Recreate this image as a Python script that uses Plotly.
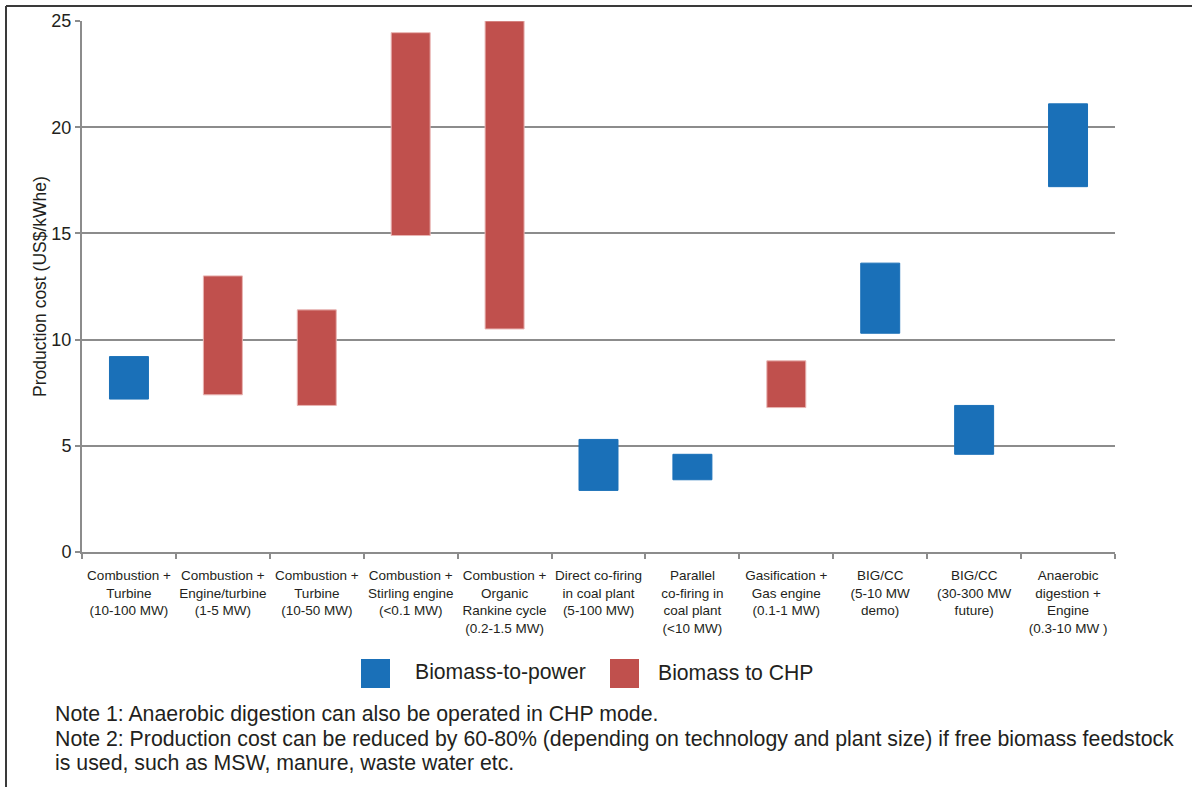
import plotly.graph_objects as go

categories = [
    "Combustion +<br>Turbine<br>(10-100 MW)",
    "Combustion +<br>Engine/turbine<br>(1-5 MW)",
    "Combustion +<br>Turbine<br>(10-50 MW)",
    "Combustion +<br>Stirling engine<br>(<0.1 MW)",
    "Combustion +<br>Organic<br>Rankine cycle<br>(0.2-1.5 MW)",
    "Direct co-firing<br>in coal plant<br>(5-100 MW)",
    "Parallel<br>co-firing in<br>coal plant<br>(<10 MW)",
    "Gasification +<br>Gas engine<br>(0.1-1 MW)",
    "BIG/CC<br>(5-10 MW<br>demo)",
    "BIG/CC<br>(30-300 MW<br>future)",
    "Anaerobic<br>digestion +<br>Engine<br>(0.3-10 MW )",
]
cost_low = [7.2, 7.4, 6.9, 14.9, 10.5, 2.9, 3.4, 6.8, 10.3, 4.6, 17.2]
cost_high = [9.2, 13.0, 11.4, 24.45, 25.0, 5.3, 4.6, 9.0, 13.6, 6.9, 21.1]
series = ["power", "chp", "chp", "chp", "chp", "power", "power", "chp", "power", "power", "power"]

series_names = {"power": "Biomass-to-power", "chp": "Biomass to CHP"}
series_colors = {"power": "#1a70b8", "chp": "#c0504d"}
series_lines = {"power": "#1a70b8", "chp": "#e8b4b2"}

notes = [
    "Note 1: Anaerobic digestion can also be operated in CHP mode.",
    "Note 2: Production cost can be reduced by 60-80% (depending on technology and plant size) if free biomass feedstock",
    "is used, such as MSW, manure, waste water etc.",
]

W, H = 1192, 787
L, R, T, B = 82, 77, 21, 235
PW, PH = W - L - R, H - T - B


def px(x):
    return (x - L) / PW


def py(y):
    return (H - B - y) / PH


FONT = "Liberation Sans, Arial, sans-serif"
TXT = "#231f20"
GRID = "#8c8c8c"

fig = go.Figure()
for key in ["power", "chp"]:
    xs = [c for c, s in zip(categories, series) if s == key]
    lo = [l for l, s in zip(cost_low, series) if s == key]
    hi = [h for h, s in zip(cost_high, series) if s == key]
    fig.add_trace(go.Bar(
        x=xs, y=[h - l for h, l in zip(hi, lo)], base=lo,
        name=series_names[key], width=0.415,
        marker=dict(color=series_colors[key], line=dict(color=series_lines[key], width=1)),
        showlegend=False,
    ))

fig.update_layout(
    width=W, height=H,
    margin=dict(l=L, r=R, t=T, b=B),
    paper_bgcolor="white", plot_bgcolor="white",
    barmode="overlay",
    font=dict(family=FONT, color=TXT),
    showlegend=False,
)
fig.update_xaxes(
    type="category", categoryorder="array", categoryarray=categories,
    tickson="boundaries", ticks="outside", ticklen=5, tickwidth=2, tickcolor=GRID,
    showline=True, linecolor=GRID, linewidth=2, showgrid=False,
    tickfont=dict(size=13.5, color=TXT, family=FONT), tickangle=0,
    ticklabelstandoff=10,
    range=[-0.5, len(categories) - 0.5],
)
fig.update_yaxes(
    range=[0, 25], dtick=5, tick0=0,
    showgrid=True, gridcolor=GRID, gridwidth=2,
    showline=True, linecolor=GRID, linewidth=2,
    ticks="outside", ticklen=5, tickwidth=2, tickcolor=GRID,
    tickfont=dict(size=18, color=TXT, family=FONT),
    zeroline=False,
    title=dict(text="Production cost (US$/kWhe)", font=dict(size=17.5, color=TXT, family=FONT), standoff=0),
)

# outer frame
fig.add_shape(type="line", xref="paper", yref="paper", x0=px(6), x1=px(W + 5), y0=py(6), y1=py(6),
              line=dict(color="#3a3a3a", width=2))
fig.add_shape(type="line", xref="paper", yref="paper", x0=px(6), x1=px(6), y0=py(6), y1=py(H + 5),
              line=dict(color="#3a3a3a", width=2))

# legend drawn manually with large squares
legend_items = [("power", 361, 413), ("chp", 610, 656)]
for key, sx, tx in legend_items:
    fig.add_shape(type="rect", xref="paper", yref="paper",
                  x0=px(sx), x1=px(sx + 29), y0=py(688), y1=py(659),
                  fillcolor=series_colors[key], line=dict(width=0))
    fig.add_annotation(xref="paper", yref="paper", x=px(tx), y=py(672),
                       text=series_names[key], showarrow=False, xanchor="left", yanchor="middle",
                       font=dict(size=21.2, color=TXT, family=FONT))

for line, yc in zip(notes, [714, 739, 763]):
    fig.add_annotation(xref="paper", yref="paper", x=px(53), y=py(yc),
                       text=line, showarrow=False, xanchor="left", yanchor="middle",
                       align="left", font=dict(size=21.3, color=TXT, family=FONT))

fig.write_html("out.html", config={"displayModeBar": False},
               post_script="document.body.style.margin='0';")
